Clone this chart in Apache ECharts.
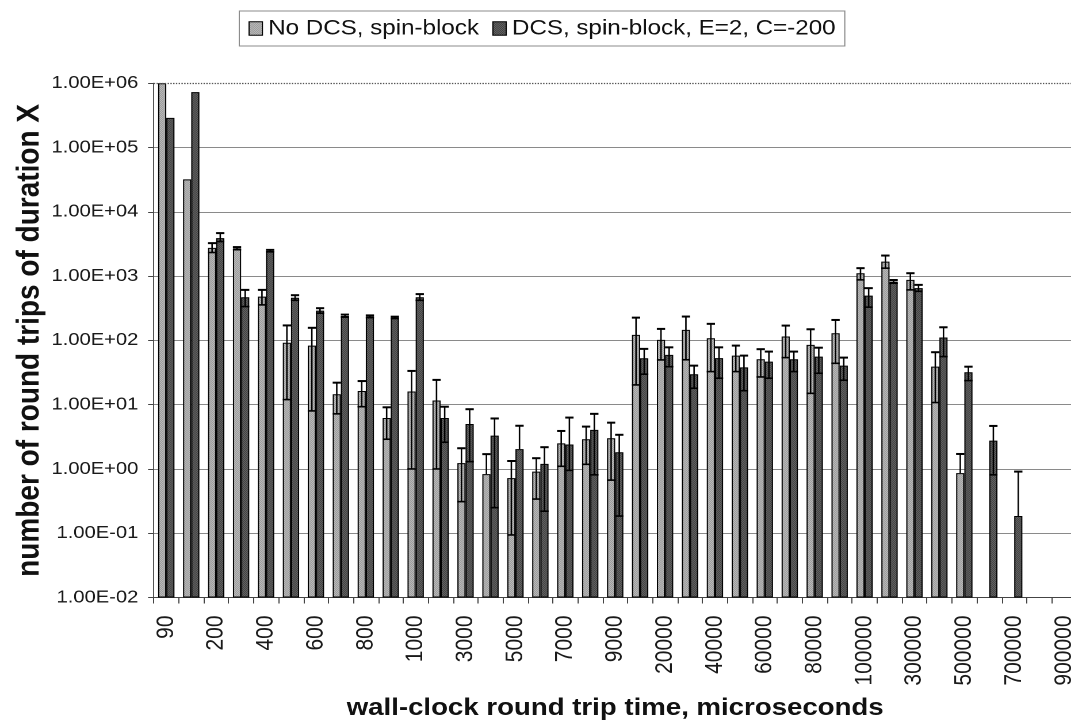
<!DOCTYPE html>
<html>
<head>
<meta charset="utf-8">
<script src="https://cdn.jsdelivr.net/npm/echarts@6/dist/echarts.min.js"></script>
<style>
  html, body { margin: 0; padding: 0; background: #fff; overflow: hidden; }
  /* the figure is laid out on a narrower canvas and widened horizontally */
  #chart { width: 931px; height: 724px; transform: scaleX(1.1504); transform-origin: 0 0; }
</style>
</head>
<body>
<div id="chart"></div>
<script>
// round-trip time buckets (microseconds)
const categories = ['90','100','200','300','400','500','600','700','800','900','1000',
  '2000','3000','4000','5000','6000','7000','8000','9000','10000',
  '20000','30000','40000','50000','60000','70000','80000','90000','100000',
  '200000','300000','400000','500000','600000','700000','800000','900000'];

const seriesNames = ['No DCS, spin-block', 'DCS, spin-block, E=2, C=-200'];

// mean number of round trips per bucket
const noDcs = [1.0e6, 3.2e4, 2750, 2700, 480, 92, 83, 14.5, 16.3, 6.2, 16,
  11.6, 1.23, 0.83, 0.72, 0.91, 2.5, 2.9, 3.0, 122,
  102, 146, 108, 58, 51, 115, 85, 129, 1110,
  1680, 875, 39, 0.86, null, null, null, null];
const noDcsHigh = [null, null, 3260, 2830, 611, 171, 157, 22, 23.3, 9.1, 33.5,
  24.3, 2.1, 1.7, 1.33, 1.47, 3.9, 4.56, 5.25, 226,
  151, 235, 181, 83, 73, 170, 149, 208, 1330,
  2090, 1110, 65.5, 1.71, null, null, null, null];
const noDcsLow = [null, null, 2330, 2580, 357, 12, 8, 7.2, 9.3, 2.9, 1.0,
  1.0, 0.31, null, 0.094, 0.34, 1.1, 1.18, 0.67, 20.3,
  49.7, 50, 32.7, 32.7, 27, 54, 15, 44, 875,
  1330, 611, 10.8, null, null, null, null, null];

const dcs = [2.9e5, 7.3e5, 3900, 470, 2470, 460, 290, 240, 235, 226, 470,
  6.2, 5.0, 3.3, 2.03, 1.2, 2.4, 4.05, 1.82, 52.8,
  59.5, 29.8, 53, 38, 46.8, 51, 56, 40.5, 498,
  822, 650, 111, 32, 2.76, 0.185, null, null];
const dcsHigh = [null, null, 4670, 611, 2560, 505, 317, 252, 245, 234, 525,
  9.3, 8.5, 6.1, 4.7, 2.18, 6.3, 7.2, 3.4, 73.8,
  78, 40.5, 78, 58, 67, 67, 77, 54, 650,
  870, 731, 160, 39, 4.67, 0.91, null, null];
const dcsLow = [null, null, 3450, 336, 2390, 420, 265, 230, 226, 219, 420,
  2.6, 1.3, 0.25, null, 0.22, 0.95, 0.81, 0.185, 29.8,
  39, 18, 25.8, 16.5, 25.8, 32.7, 30.8, 24, 329,
  775, 580, 56, 23.7, 0.81, null, null, null];

// value axis: decades from 1e-2 to 1e6
const yTickLabels = ['1.00E-02','1.00E-01','1.00E+00','1.00E+01','1.00E+02',
  '1.00E+03','1.00E+04','1.00E+05','1.00E+06'];

const xTitle = 'wall-clock round trip time, microseconds';
const yTitle = 'number of round trips of duration X';

const FONT = '"Liberation Sans", Arial, Helvetica, sans-serif';
const BAR_W = 7.1;
const Y_MIN = 0.01, Y_MAX = 1e6;

function dither(a, b) {
  const c = document.createElement('canvas');
  c.width = 2; c.height = 2;
  const g = c.getContext('2d');
  g.fillStyle = a; g.fillRect(0, 0, 2, 2);
  g.fillStyle = b; g.fillRect(0, 0, 1, 1); g.fillRect(1, 1, 1, 1);
  return { image: c, repeat: 'repeat' };
}
const lightFill = dither('#e0e0e0', '#767676');
const darkFill = dither('#8a8a8a', '#1c1c1c');

function errData(vals, hi, lo) {
  const out = [];
  vals.forEach((v, i) => {
    if (v == null || hi[i] == null) return;
    out.push([i, hi[i], lo[i] != null ? lo[i] : v, lo[i] != null ? 1 : 0]);
  });
  return out;
}

function errRender(offset) {
  return function (params, api) {
    const i = api.value(0);
    const top = api.coord([i, api.value(1)]);
    const bot = api.coord([i, api.value(2)]);
    const x = top[0] + offset;
    const half = 3.6;
    const kids = [
      { type: 'line', shape: { x1: x, y1: top[1], x2: x, y2: bot[1] },
        style: { stroke: '#000', lineWidth: 1.3 } },
      { type: 'line', shape: { x1: x - half, y1: top[1], x2: x + half, y2: top[1] },
        style: { stroke: '#000', lineWidth: 2 } }
    ];
    if (api.value(3)) {
      kids.push({ type: 'line', shape: { x1: x - half, y1: bot[1], x2: x + half, y2: bot[1] },
        style: { stroke: '#000', lineWidth: 1.6 } });
    }
    return { type: 'group', children: kids };
  };
}

const gridColors = yTickLabels.map((_, k) => k === yTickLabels.length - 1 ? 'rgba(0,0,0,0)' : '#8a8a8a');

const chart = echarts.init(document.getElementById('chart'), null, { renderer: 'canvas', devicePixelRatio: 2 });

chart.setOption({
  animation: false,
  backgroundColor: '#fff',
  textStyle: { fontFamily: FONT },
  legend: {
    data: seriesNames,
    left: 208, top: 11,
    orient: 'horizontal',
    icon: 'rect',
    itemWidth: 11.6, itemHeight: 13.4, itemGap: 11.6,
    padding: [7, 8, 7, 8],
    borderColor: '#8c8c8c', borderWidth: 1,
    itemStyle: { borderColor: '#000', borderWidth: 1 },
    textStyle: { fontSize: 21, color: '#111', fontFamily: FONT }
  },
  grid: {
    left: 133.7, top: 83.3, width: 802.1, height: 514.2,
    containLabel: false,
    outerBoundsMode: 'none'
  },
  xAxis: {
    type: 'category',
    data: categories,
    boundaryGap: true,
    axisLine: { show: true, lineStyle: { color: '#444', width: 1 } },
    axisTick: { show: true, interval: 0, length: 6, lineStyle: { color: '#444' } },
    axisLabel: { interval: 1, rotate: 90, margin: 18, fontSize: 21, color: '#1a1a1a', fontFamily: FONT },
    splitLine: { show: false },
    name: xTitle,
    nameLocation: 'middle',
    nameGap: 99,
    nameMoveOverlap: false,
    nameTextStyle: { fontSize: 24, fontWeight: 'bold', color: '#111', fontFamily: FONT }
  },
  yAxis: {
    type: 'log',
    logBase: 10,
    min: Y_MIN, max: Y_MAX,
    startValue: Y_MIN,
    splitNumber: 8,
    axisLine: { show: true, lineStyle: { color: '#555', width: 1 } },
    axisTick: { show: true, length: 5, lineStyle: { color: '#444' } },
    axisLabel: {
      margin: 13.5, fontSize: 17.5, color: '#1a1a1a', fontFamily: FONT,
      formatter: function (v) {
        const k = Math.round(Math.log10(v)) + 2;
        return yTickLabels[k] != null ? yTickLabels[k] : '';
      }
    },
    splitLine: { show: true, lineStyle: { color: gridColors, width: 1 } },
    name: yTitle,
    nameLocation: 'middle',
    nameGap: 94,
    nameMoveOverlap: false,
    nameTextStyle: { fontSize: 28, fontWeight: 'bold', color: '#111', fontFamily: FONT }
  },
  series: [
    {
      name: seriesNames[0],
      type: 'bar',
      data: noDcs.map(v => v == null ? '-' : v),
      barWidth: BAR_W,
      barGap: '0%',
      itemStyle: { color: lightFill, borderColor: '#000', borderWidth: 1 },
      markLine: {
        silent: true, symbol: 'none',
        label: { show: false },
        lineStyle: { type: 'dotted', color: '#555', width: 1.2 },
        data: [{ yAxis: Y_MAX }]
      },
      z: 2
    },
    {
      name: seriesNames[1],
      type: 'bar',
      data: dcs.map(v => v == null ? '-' : v),
      barWidth: BAR_W,
      barGap: '0%',
      itemStyle: { color: darkFill, borderColor: '#000', borderWidth: 1 },
      z: 2
    },
    {
      type: 'custom',
      name: 'errNoDcs',
      data: errData(noDcs, noDcsHigh, noDcsLow),
      encode: { x: 0, y: 1 },
      renderItem: errRender(-BAR_W / 2),
      z: 5, silent: true
    },
    {
      type: 'custom',
      name: 'errDcs',
      data: errData(dcs, dcsHigh, dcsLow),
      encode: { x: 0, y: 1 },
      renderItem: errRender(BAR_W / 2),
      z: 5, silent: true
    }
  ]
});
</script>
</body>
</html>
